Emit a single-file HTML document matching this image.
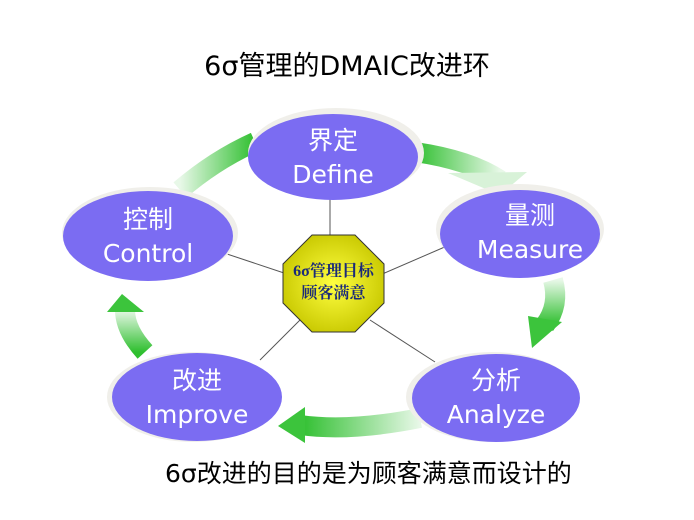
<!DOCTYPE html>
<html><head><meta charset="utf-8"><style>
html,body{margin:0;padding:0;background:#fff;}
body{width:694px;height:520px;overflow:hidden;position:relative;font-family:"DejaVu Sans","Liberation Sans","Noto Sans CJK SC",sans-serif;}
.t{position:absolute;white-space:nowrap;}
</style></head><body>
<svg width="694" height="520" style="position:absolute;left:0;top:0">
<defs>
<linearGradient id="g1" x1="0" y1="0" x2="1" y2="0"><stop offset="0" stop-color="#2fbf2f"/><stop offset="1" stop-color="#e8f8e8"/></linearGradient>
<linearGradient id="g2" x1="0" y1="0" x2="0" y2="1"><stop offset="0" stop-color="#e8f8e8"/><stop offset="1" stop-color="#2fbf2f"/></linearGradient>
<linearGradient id="g3" x1="1" y1="0" x2="0" y2="0"><stop offset="0" stop-color="#e8f8e8"/><stop offset="1" stop-color="#2fbf2f"/></linearGradient>
<linearGradient id="g4" x1="0" y1="1" x2="0" y2="0"><stop offset="0" stop-color="#2fbf2f"/><stop offset="1" stop-color="#e8f8e8"/></linearGradient>
<linearGradient id="g5" x1="0" y1="0" x2="1" y2="0"><stop offset="0" stop-color="#e8f8e8"/><stop offset="1" stop-color="#2fbf2f"/></linearGradient>
<radialGradient id="oct" cx="0.5" cy="0.5" r="0.55"><stop offset="0" stop-color="#ffff40"/><stop offset="1" stop-color="#c8c800"/></radialGradient>
</defs>
<path d="M415 152 Q470 160 500 180" stroke="url(#g1)" stroke-width="20" fill="none"/>
<polygon points="448,173 527,172 500,195" fill="#d8f2d8"/>
<path d="M553 280 Q560 305 545 325" stroke="url(#g2)" stroke-width="20" fill="none"/>
<polygon points="528,316 562,322 532,348" fill="#3cc43c"/>
<path d="M420 418 Q350 432 300 425" stroke="url(#g3)" stroke-width="20" fill="none"/>
<polygon points="305,407 305,443 278,426" fill="#3cc43c"/>
<path d="M145 352 Q125 330 125 310" stroke="url(#g4)" stroke-width="20" fill="none"/>
<polygon points="107,312 144,312 122,294" fill="#3cc43c"/>
<path d="M180 190 Q215 160 255 142" stroke="url(#g5)" stroke-width="20" fill="none"/>
<g stroke="#555" stroke-width="1">
<line x1="330" y1="190" x2="330" y2="240"/>
<line x1="200" y1="245" x2="290" y2="275"/>
<line x1="447" y1="246" x2="380" y2="275"/>
<line x1="260" y1="360" x2="300" y2="320"/>
<line x1="435" y1="362" x2="370" y2="320"/>
</g>
<g fill="#f0efea">
<ellipse cx="336" cy="153" rx="88" ry="45"/>
<ellipse cx="520" cy="229" rx="84" ry="45"/>
<ellipse cx="150" cy="233" rx="88" ry="46"/>
<ellipse cx="193" cy="397" rx="86" ry="45"/>
<ellipse cx="492" cy="397" rx="86" ry="45"/>
</g>
<g fill="#7b6cf2">
<ellipse cx="333" cy="157" rx="85" ry="43"/>
<ellipse cx="520" cy="234" rx="80" ry="44"/>
<ellipse cx="148" cy="236" rx="85" ry="45"/>
<ellipse cx="197" cy="397" rx="85" ry="44"/>
<ellipse cx="496" cy="398" rx="84" ry="44"/>
</g>
<polygon points="312,235 355,235 384,264 384,303 355,332 312,332 283,303 283,264" fill="url(#oct)" stroke="#333" stroke-width="1"/>
</svg>
<div class="t" style="left:0;width:694px;text-align:center;top:44px;font-size:27px;color:#000">6σ管理的DMAIC改进环</div>
<div class="t" style="left:273px;width:121px;text-align:center;top:261px;font-size:16px;line-height:22px;font-weight:bold;color:#1a2a7a;font-family:'Liberation Serif','Noto Serif CJK SC',serif">6σ管理目标<br>顾客满意</div>
<div class="t" style="left:248px;width:170px;text-align:center;top:124px;font-size:25px;line-height:34px;color:#fff">界定<br>Define</div>
<div class="t" style="left:440px;width:180px;text-align:center;top:199px;font-size:25px;line-height:34px;color:#fff">量测<br>Measure</div>
<div class="t" style="left:63px;width:170px;text-align:center;top:203px;font-size:25px;line-height:34px;color:#fff">控制<br>Control</div>
<div class="t" style="left:112px;width:170px;text-align:center;top:364px;font-size:25px;line-height:34px;color:#fff">改进<br>Improve</div>
<div class="t" style="left:412px;width:168px;text-align:center;top:364px;font-size:25px;line-height:34px;color:#fff">分析<br>Analyze</div>
<div class="t" style="left:165px;top:454px;font-size:25px;color:#000">6σ改进的目的是为顾客满意而设计的</div>
</body></html>
